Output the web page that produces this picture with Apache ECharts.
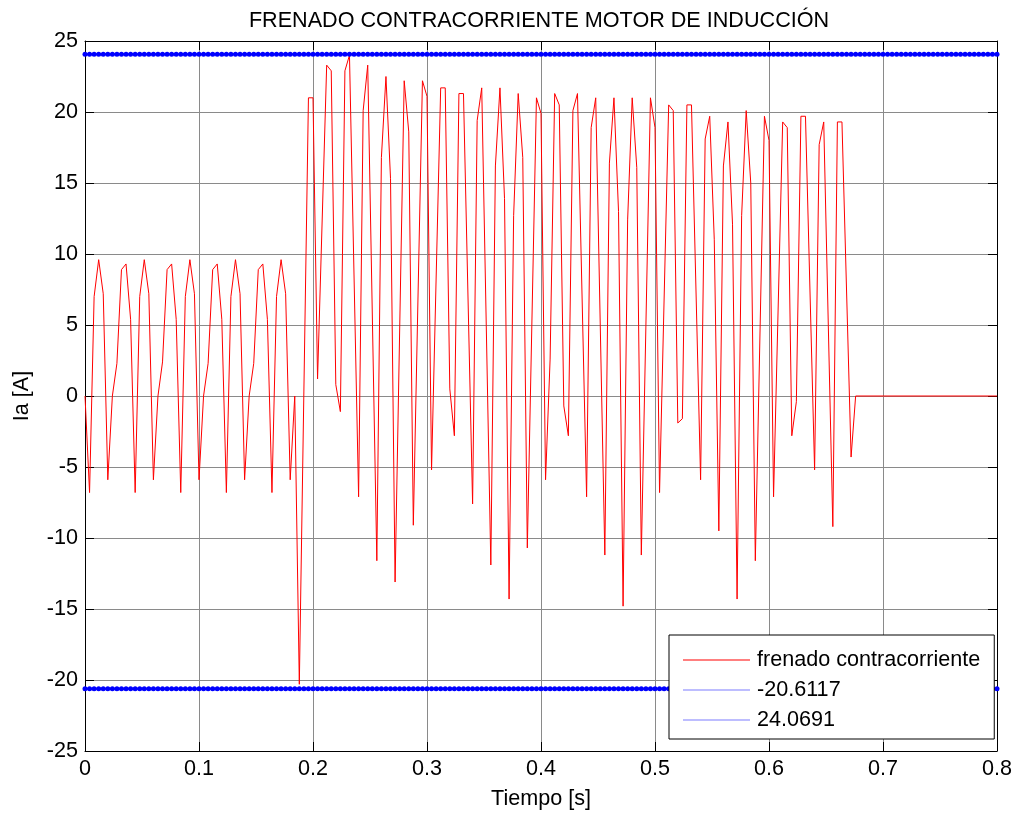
<!DOCTYPE html>
<html><head><meta charset="utf-8">
<script src="https://cdn.jsdelivr.net/npm/echarts@6/dist/echarts.min.js"></script>
<style>html,body{margin:0;padding:0;background:#fff}#c{width:1017px;height:815px}</style>
</head><body><div id="c"></div>
<script>
// Time stamps [s] of the plotted current samples
const times = [
  0.000,0.004,0.008,0.012,0.016,0.020,0.024,0.028,0.032,0.036,
  0.040,0.044,0.048,0.052,0.056,0.060,0.064,0.068,0.072,0.076,
  0.080,0.084,0.088,0.092,0.096,0.100,0.104,0.108,0.112,0.116,
  0.120,0.124,0.128,0.132,0.136,0.140,0.144,0.148,0.152,0.156,
  0.160,0.164,0.168,0.172,0.176,0.180,0.184,0.188,
  0.196,0.200,0.204,0.212,0.216,0.220,0.224,0.228,0.232,
  0.240,0.244,0.248,0.256,0.260,0.264,0.268,0.272,
  0.280,0.284,0.288,0.296,0.300,0.304,0.312,0.316,0.320,0.324,0.328,0.332,
  0.340,0.344,0.348,0.356,0.360,0.364,0.368,0.372,0.376,0.380,0.384,0.388,
  0.396,0.400,0.404,0.408,0.412,0.416,0.420,0.424,0.428,0.432,
  0.440,0.444,0.448,0.456,0.460,0.464,0.468,0.472,0.476,0.480,0.484,0.488,
  0.496,0.500,0.504,0.512,0.516,0.520,0.524,0.528,0.532,
  0.540,0.544,0.548,0.552,0.556,0.560,0.564,0.568,0.572,0.576,0.580,0.584,0.588,
  0.596,0.600,0.604,0.612,0.616,0.620,0.624,0.628,0.632,
  0.640,0.644,0.648,0.656,0.660,0.664,0.672,0.676,0.800
];
// Phase current Ia [A]
const current = [
  0,-6.8,7.0,9.6,7.2,-5.9,0,2.3,8.9,9.3,
  5.4,-6.8,7.0,9.6,7.2,-5.9,0,2.4,8.9,9.3,
  5.4,-6.8,7.0,9.6,7.2,-5.9,0,2.3,8.9,9.3,
  5.4,-6.8,7.0,9.6,7.2,-5.9,0,2.3,8.9,9.3,
  5.4,-6.8,7.0,9.6,7.2,-5.9,0,-20.3,
  21.0,21.0,1.2,23.3,22.9,0.8,-1.1,22.9,24.0,
  -7.1,20.1,23.3,-11.6,16.8,22.5,15.3,-13.1,
  22.2,18.6,-9.1,22.2,21.1,-5.2,21.7,21.7,0.5,-2.8,21.3,21.3,
  -7.6,19.4,21.7,-11.9,16.2,21.7,13.9,-14.3,12.7,21.3,16.8,-10.7,
  21.0,19.9,-5.9,2.6,21.3,20.5,-0.7,-2.8,20.1,21.3,
  -7.1,18.9,21.0,-11.2,16.4,21.0,13.0,-14.8,12.4,21.0,16.1,-11.2,
  21.0,18.9,-6.8,20.5,20.1,-1.9,-1.6,20.5,20.5,
  -5.9,18.1,19.7,11.0,-9.5,16.2,19.3,12.1,-14.3,12.7,20.1,15.0,-11.6,
  19.7,18.0,-7.1,19.3,18.9,-2.8,-0.4,19.7,19.7,
  -5.2,17.7,19.3,-9.2,19.3,19.3,-4.3,0,0
];
const seriesNames = ['frenado contracorriente', '-20.6117', '24.0691'];
const lowerLevel = -20.6117;
const upperLevel = 24.0691;
const levelStep = 0.004;     // spacing of the markers on the level lines
const levelEnd = 0.8;
const xTickValues = [0, 0.1, 0.2, 0.3, 0.4, 0.5, 0.6, 0.7, 0.8];
const yTickValues = [-25, -20, -15, -10, -5, 0, 5, 10, 15, 20, 25];

const redData = times.map((t, i) => [t, current[i]]);
const nLevel = Math.round(levelEnd / levelStep);
const levelTimes = [];
for (let i = 0; i <= nLevel; i++) levelTimes.push(+(i * levelStep).toFixed(4));
const lowData = levelTimes.map(t => [t, lowerLevel]);
const upData = levelTimes.map(t => [t, upperLevel]);

const FONT = 'Liberation Sans, Arial, sans-serif';
const FS = 21.6;
const gridColor = '#8a8a8a';

function axisBase(pos, isX, showLabels) {
  const vals = isX ? xTickValues : yTickValues;
  return {
    type: 'value',
    position: pos,
    min: vals[0], max: vals[vals.length - 1],
    interval: isX ? 0.1 : 5,
    axisLine: {show: true, onZero: false, lineStyle: {color: '#000', width: 1}},
    axisTick: {show: true, inside: true, length: 9, lineStyle: {color: '#000', width: 1}},
    splitLine: {show: showLabels, lineStyle: {color: gridColor, width: 1}},
    axisLabel: {
      show: showLabels, color: '#000', fontFamily: FONT, fontSize: FS, margin: 7,
      formatter: v => String(+(+v).toFixed(1))
    }
  };
}

const xBottom = Object.assign(axisBase('bottom', true, true), {
  name: 'Tiempo [s]', nameLocation: 'middle', nameGap: 37,
  nameTextStyle: {color: '#000', fontFamily: FONT, fontSize: FS}
});
const xTop = axisBase('top', true, false);
const yLeft = Object.assign(axisBase('left', false, true), {
  name: 'Ia [A]', nameLocation: 'middle', nameGap: 52,
  nameTextStyle: {color: '#000', fontFamily: FONT, fontSize: FS}
});
const yRight = axisBase('right', false, false);

const chart = echarts.init(document.getElementById('c'), null, {renderer: 'canvas'});
chart.setOption({
  backgroundColor: '#fff',
  animation: false,
  title: {
    text: 'FRENADO CONTRACORRIENTE MOTOR DE INDUCCIÓN',
    left: 534, top: 5, textAlign: 'center',
    textStyle: {color: '#000', fontFamily: FONT, fontSize: FS, fontWeight: 'normal'}
  },
  grid: {left: 85, right: 20, top: 41, bottom: 64},
  xAxis: [xBottom, xTop],
  yAxis: [yLeft, yRight],
  legend: {
    orient: 'vertical',
    left: 669, top: 635,
    padding: [14, 14, 8, 14],
    itemGap: 8,
    itemWidth: 67, itemHeight: 1,
    icon: 'rect',
    backgroundColor: '#fff',
    borderColor: '#000', borderWidth: 1,
    textStyle: {color: '#000', fontFamily: FONT, fontSize: FS, padding: [0, 0, 0, 2]},
    data: [
      {name: seriesNames[0], itemStyle: {color: '#ff0000'}},
      {name: seriesNames[1], itemStyle: {color: '#7c7cff'}},
      {name: seriesNames[2], itemStyle: {color: '#7c7cff'}}
    ]
  },
  series: [
    {
      name: seriesNames[0], type: 'line', data: redData,
      xAxisIndex: 0, yAxisIndex: 0,
      showSymbol: false, symbol: 'none',
      lineStyle: {color: '#ff0000', width: 1},
      itemStyle: {color: '#ff0000'},
      z: 2
    },
    {
      name: seriesNames[1], type: 'line', data: lowData,
      showSymbol: true, showAllSymbol: true, symbol: 'circle', symbolSize: 5,
      lineStyle: {color: '#0000ff', width: 2},
      itemStyle: {color: '#0000ff'},
      z: 3
    },
    {
      name: seriesNames[2], type: 'line', data: upData,
      showSymbol: true, showAllSymbol: true, symbol: 'circle', symbolSize: 5,
      lineStyle: {color: '#0000ff', width: 2},
      itemStyle: {color: '#0000ff'},
      z: 3
    }
  ]
});
</script>
</body></html>
